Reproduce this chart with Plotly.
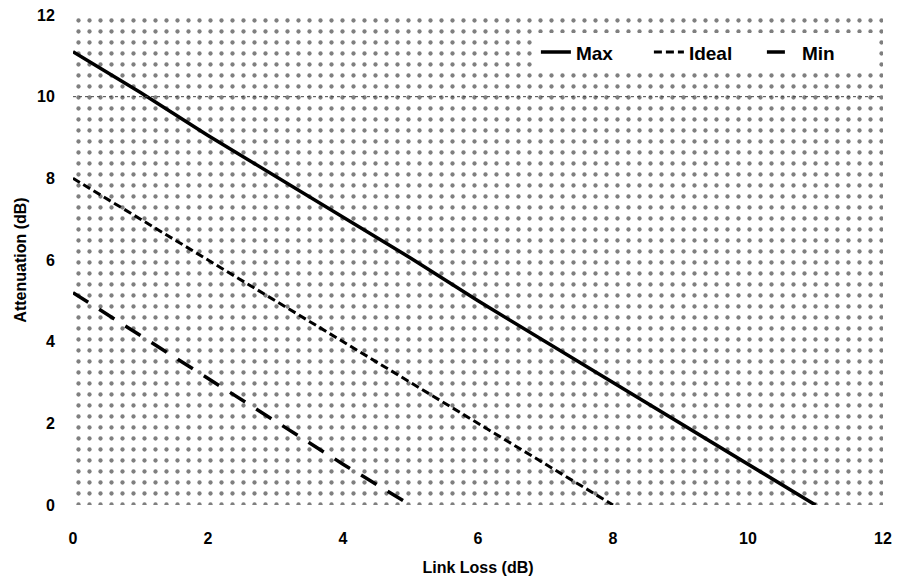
import plotly.graph_objects as go

# ---- data ----
max_x = [0, 1, 2, 3, 4, 5, 6, 7, 8, 9, 10, 11]
max_y = [11.1, 10.1, 9.05, 8.05, 7.05, 6.05, 5.0, 4.0, 3.0, 2.0, 1.0, 0.0]
ideal_x = [0, 1, 2, 3, 4, 5, 6, 7, 8]
ideal_y = [8.0, 7.0, 6.0, 5.0, 4.0, 3.0, 2.0, 1.0, 0.0]
min_x = [0, 1, 2, 3, 4, 5]
min_y = [5.2, 4.15, 3.1, 2.05, 1.0, 0.0]
x_ticks = [0, 2, 4, 6, 8, 10, 12]
y_ticks = [0, 2, 4, 6, 8, 10, 12]
X_RANGE = [0, 12]
Y_RANGE = [0, 12]

FONT = dict(family="Liberation Sans, Arial, sans-serif", size=16, color="black", weight="bold")
LEG_FONT = dict(family="Liberation Sans, Arial, sans-serif", size=19, color="black", weight="bold")

fig = go.Figure()

# stippled plot-area background
fig.add_trace(go.Scatter(
    x=[X_RANGE[0], X_RANGE[1], X_RANGE[1], X_RANGE[0], X_RANGE[0]],
    y=[Y_RANGE[0], Y_RANGE[0], Y_RANGE[1], Y_RANGE[1], Y_RANGE[0]],
    mode="lines", line=dict(width=0), fill="toself", fillcolor="white",
    fillpattern=dict(shape=".", size=11, solidity=0.12, fgcolor="black", bgcolor="white"),
    showlegend=False, hoverinfo="skip"))

fig.add_trace(go.Scatter(x=max_x, y=max_y, mode="lines", name="Max",
                         line=dict(color="black", width=3.5)))
fig.add_trace(go.Scatter(x=ideal_x, y=ideal_y, mode="lines", name="Ideal",
                         line=dict(color="black", width=3, dash="8px,4px")))
fig.add_trace(go.Scatter(x=min_x, y=min_y, mode="lines", name="Min",
                         line=dict(color="black", width=3.5, dash="18px,13px")))

fig.update_layout(
    width=895, height=571,
    margin=dict(l=65, r=20, t=7, b=74),
    paper_bgcolor="white", plot_bgcolor="white",
    font=FONT,
    legend=dict(orientation="h", x=0.99, xanchor="right", y=0.924, yanchor="middle",
                bgcolor="white", borderwidth=0, font=LEG_FONT,
                entrywidth=68, entrywidthmode="pixels"),
    xaxis=dict(range=X_RANGE, tickvals=x_ticks, showgrid=False, zeroline=False,
               showline=False, ticks="outside", ticklen=19, tickcolor="rgba(0,0,0,0)",
               automargin=False, ticklabeloverflow="allow",
               title=dict(text="Link Loss (dB)", font=FONT, standoff=15)),
    yaxis=dict(range=Y_RANGE, tickvals=y_ticks, showgrid=False, zeroline=False,
               showline=False, ticks="outside", ticklen=14, tickcolor="rgba(0,0,0,0)",
               automargin=False, ticklabeloverflow="allow",
               title=dict(text="Attenuation (dB)", font=FONT, standoff=6)),
)

fig.add_shape(type="line", xref="paper", x0=0, x1=1, yref="y", y0=10, y1=10,
              line=dict(color="#444444", width=1, dash="dot"), layer="above")

fig.write_html("out.html")
